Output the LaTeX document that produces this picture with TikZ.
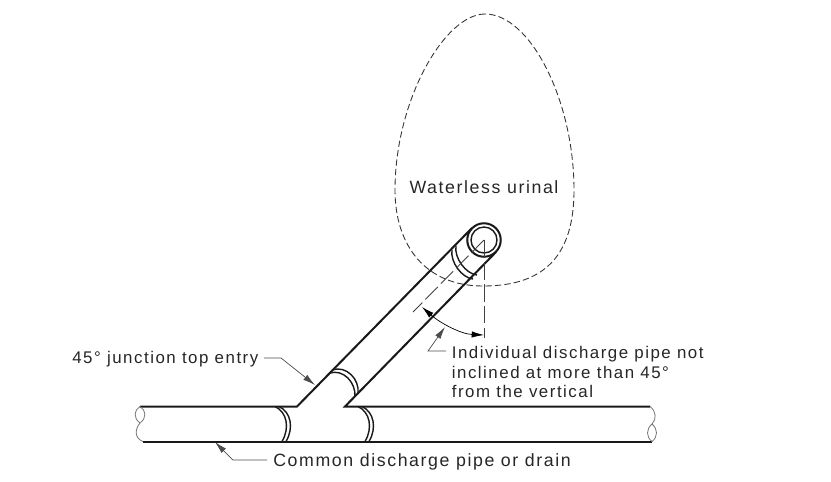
\documentclass[tikz,border=0pt]{standalone}
\usepackage{fontspec}
\setmainfont[LetterSpace=9]{Liberation Sans}
\usetikzlibrary{arrows.meta}
\definecolor{leadgray}{gray}{0.3}
\tikzset{
  pipe/.style={line width=1.15pt, black!90},
  weld/.style={line width=0.8pt, black!90},
  wiggle/.style={line width=0.45pt, black!55},
  leader/.style={line width=0.4pt, leadgray},
  tip/.style={-{Latex[length=7pt,width=3.6pt]}},
  axisline/.style={line width=0.5pt, black!75, dash pattern=on 10pt off 2.5pt},
  lbl/.style={font=\fontsize{9.6}{11.2}\selectfont, inner sep=0pt, align=left, text=black!85},
  lblbig/.style={lbl, font=\fontsize{10.1}{12}\selectfont},
}
\begin{document}
\begin{tikzpicture}[x=0.02cm,y=-0.02cm]
  \useasboundingbox (0,0) rectangle (831,481);

  % urinal outline
  \node[lblbig] (nUrinal) at (484,187.5) {Waterless urinal};
  \draw[line width=0.5pt, black!80, dash pattern=on 3.6pt off 1.8pt]
    (485,14) .. controls (445,14) and (395,100) .. (395,190)
    .. controls (395,245) and (425,286) .. (483,286)
    .. controls (545,286) and (574,255) .. (574,190)
    .. controls (574,100) and (530,14) .. (485,14);

  % end of the branch
  \node[circle, draw, pipe, minimum size=0.67cm, inner sep=0pt, fill=white] (nRingOut) at (484,240) {};
  \node[circle, draw, weld, minimum size=0.52cm, inner sep=0pt] (nRingIn) at (484,240) {};

  % pipe corners
  \coordinate (nTL) at (140,406.5);
  \coordinate (nTJ) at (297,406.5);
  \coordinate (nBL) at (143,441.5);
  \coordinate (nBR) at (652,441.5);
  \coordinate (nTK) at (345,406.5);
  \coordinate (nTR) at (650,406.5);
  \coordinate (nBrU) at (472,228);
  \coordinate (nBrD) at (496,252);

  \draw[pipe] (nTL) -- (nTJ) -- (nBrU);
  \draw[pipe] (nBrD) -- (nTK) -- (nTR);
  \draw[pipe] (nBL) -- (nBR);

  % broken ends
  \draw[wiggle] (nTL) .. controls (134,410) and (133,418) .. (140,423)
    .. controls (135,429) and (134,438) .. (nBL);
  \draw[wiggle] (nTL) .. controls (146,410) and (147,418) .. (140,423);
  \draw[wiggle] (nTR) .. controls (656,411) and (657,419) .. (652,424)
    .. controls (646,429) and (646,437) .. (nBR);
  \draw[wiggle] (652,424) .. controls (658,429) and (658,437) .. (nBR);

  % welds
  \draw[weld] (275,406.5) .. controls (287,412) and (290,428) .. (282,441.5);
  \draw[weld] (279,406.5) .. controls (291,412) and (294,428) .. (286,441.5);
  \draw[weld] (358,406.5) .. controls (370,412) and (373,428) .. (365,441.5);
  \draw[weld] (362,406.5) .. controls (374,412) and (377,428) .. (369,441.5);
  \draw[weld] (332,370) .. controls (346,365) and (360,379) .. (358,394);
  \draw[weld] (330,373) .. controls (343,369) and (356,382) .. (355,397);
  \draw[weld] (452,250) .. controls (450,262) and (462,278) .. (473,279);
  \draw[weld] (456,246) .. controls (454,258) and (466,274) .. (477,275);

  % axes
  \coordinate (nAxis) at (484,240);
  \coordinate (nAxisV) at (484,338);
  \coordinate (nAxisD) at (413,312);
  \draw[axisline] (nAxis) -- (nAxisV);
  \draw[axisline] (nAxis) -- (nAxisD);

  % 45 degree arc
  \coordinate (nArcA) at (422,307);
  \coordinate (nArcB) at (484,335);
  \draw[leader, {Latex[length=7pt,width=3.6pt]}-{Latex[length=7pt,width=3.6pt]}, black]
    (nArcA) .. controls (440,323) and (461,334) .. (nArcB);

  % labels and leaders
  \node[lbl, anchor=west] (nJunction) at (72,359) {45° junction top entry};
  \node[lbl, anchor=north west] (nIndiv) at (451.5,346) {Individual discharge pipe not\\inclined at more than 45°\\from the vertical};
  \node[lblbig, anchor=west] (nCommon) at (273,462) {Common discharge pipe or drain};

  \coordinate (nJ1) at (264,358);
  \coordinate (nJ2) at (281,358);
  \coordinate (nJ3) at (315,385);
  \draw[leader, tip] (nJ1) -- (nJ2) -- (nJ3);

  \coordinate (nI1) at (446,351);
  \coordinate (nI2) at (428,351);
  \coordinate (nI3) at (445,327);
  \draw[leader, tip] (nI1) -- (nI2) -- (nI3);

  \coordinate (nC1) at (267,460);
  \coordinate (nC2) at (233,460);
  \coordinate (nC3) at (215,442);
  \draw[leader, tip] (nC1) -- (nC2) -- (nC3);
\end{tikzpicture}
\end{document}
